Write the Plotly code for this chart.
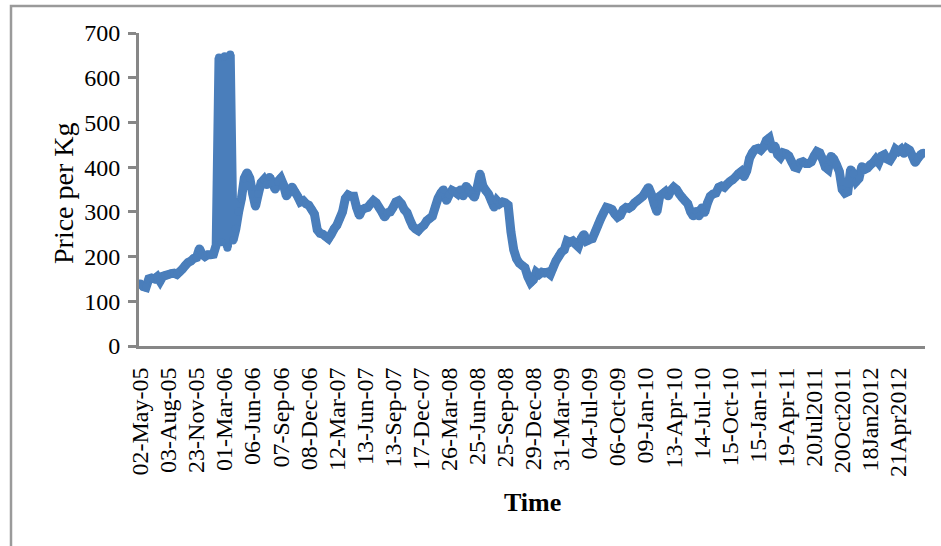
import plotly.graph_objects as go

# Daily price per kg, sampled at an even step along the trading calendar
price_2005_2006 = [
    140, 133, 131, 150, 152, 150, 155, 145, 156, 158,
    160, 162, 163, 160, 166, 172, 180, 187, 190, 196,
    198, 218, 205, 200, 204, 204, 205, 226, 645, 232,
    648, 220, 652, 236, 262, 300, 330, 375, 388, 375,
    340, 312, 340, 365, 372, 360, 378, 365, 350, 368,
    375, 360, 335, 345, 356, 345, 335, 322, 325, 318,
    315, 305, 295, 260, 252, 250, 245, 240, 250, 262,
]
price_2007_2008 = [
    270, 285, 300, 330, 338, 335, 335, 310, 292, 305,
    308, 310, 318, 325, 320, 310, 300, 288, 298, 300,
    310, 322, 325, 318, 305, 298, 282, 268, 262, 258,
    265, 270, 280, 285, 290, 310, 330, 342, 350, 325,
    338, 348, 345, 340, 350, 335, 358, 350, 340, 332,
    355, 385, 358, 348, 340, 325, 310, 325, 318, 322,
    320, 315, 255, 215, 195, 185, 180, 175, 155, 142,
]
price_2009_2010 = [
    148, 165, 160, 165, 163, 165, 160, 175, 190, 200,
    210, 215, 235, 232, 235, 228, 222, 240, 250, 235,
    238, 240, 255, 270, 285, 298, 310, 308, 305, 295,
    288, 292, 305, 310, 308, 312, 320, 325, 330, 335,
    345, 355, 340, 318, 300, 335, 340, 345, 335, 348,
    355, 350, 340, 332, 325, 318, 300, 290, 302, 290,
    310, 298, 320, 335, 340, 342, 355, 358, 355, 362,
]
price_2011_2012 = [
    368, 372, 378, 385, 390, 378, 392, 420, 432, 440,
    442, 438, 445, 460, 465, 440, 448, 428, 422, 432,
    430, 425, 412, 400, 398, 410, 412, 408, 408, 412,
    425, 435, 432, 418, 400, 395, 425, 418, 405, 390,
    350, 342, 345, 395, 385, 368, 375, 402, 395, 398,
    405, 410, 418, 410, 425, 428, 418, 415, 425, 440,
    435, 440, 430, 442, 438, 425, 410, 420, 428, 432,
]
prices = price_2005_2006 + price_2007_2008 + price_2009_2010 + price_2011_2012

# Date labels shown every 10th observation
date_labels = [
    "02-May-05", "03-Aug-05", "23-Nov-05", "01-Mar-06", "06-Jun-06",
    "07-Sep-06", "08-Dec-06", "12-Mar-07", "13-Jun-07", "13-Sep-07",
    "17-Dec-07", "26-Mar-08", "25-Jun-08", "25-Sep-08", "29-Dec-08",
    "31-Mar-09", "04-Jul-09", "06-Oct-09", "09-Jan-10", "13-Apr-10",
    "14-Jul-10", "15-Oct-10", "15-Jan-11", "19-Apr-11", "20Jul2011",
    "20Oct2011", "18Jan2012", "21Apr2012",
]
label_step = 10

obs = list(range(len(prices)))
tick_pos = [i * label_step for i in range(len(date_labels))]

blue = "#4a7ebb"
axis_grey = "#878787"
font_family = "Liberation Serif"

fig = go.Figure()
fig.add_trace(go.Scatter(
    x=obs, y=prices, mode="lines+markers",
    line=dict(color=blue, width=9, simplify=False, shape="linear"),
    marker=dict(color=blue, size=8, line=dict(width=0)),
    showlegend=False, hoverinfo="y",
))

fig.update_layout(
    width=941, height=546,
    margin=dict(l=139, r=16, t=33, b=200),
    paper_bgcolor="white", plot_bgcolor="white",
    font=dict(family=font_family, color="black", size=24),
    xaxis=dict(
        range=[-0.5, len(prices) - 0.5],
        tickmode="array", tickvals=tick_pos, ticktext=date_labels,
        tickangle=-90, ticks="", showgrid=False, zeroline=False,
        showline=True, linecolor=axis_grey, linewidth=3,
        tickfont=dict(size=24, family=font_family),
        ticklabelstandoff=9,
    ),
    yaxis=dict(
        range=[0, 700], tickmode="linear", tick0=0, dtick=100,
        ticks="outside", ticklen=8, tickwidth=2.5, tickcolor=axis_grey,
        showgrid=False, zeroline=False,
        showline=True, linecolor=axis_grey, linewidth=3,
        tickfont=dict(size=24, family=font_family),
        ticklabelstandoff=3,
    ),
    annotations=[
        dict(text="Price per Kg", textangle=-90, showarrow=False,
             xref="paper", yref="paper", x=(63 - 139) / 786, y=(346 - 193) / 313,
             xanchor="center", yanchor="middle",
             font=dict(size=28, family=font_family)),
        dict(text="<b>Time</b>", showarrow=False,
             xref="paper", yref="paper", x=0.5, y=(346 - 502) / 313,
             xanchor="center", yanchor="middle",
             font=dict(size=26, family=font_family)),
    ],
    shapes=[
        dict(type="rect", xref="paper", yref="paper",
             x0=(11 - 139) / 786, y0=-0.8, x1=1.1, y1=(346 - 6) / 313,
             line=dict(color="#9a9a9a", width=2.5), fillcolor="rgba(0,0,0,0)",
             layer="below"),
    ],
)

fig.write_html("out.html")
